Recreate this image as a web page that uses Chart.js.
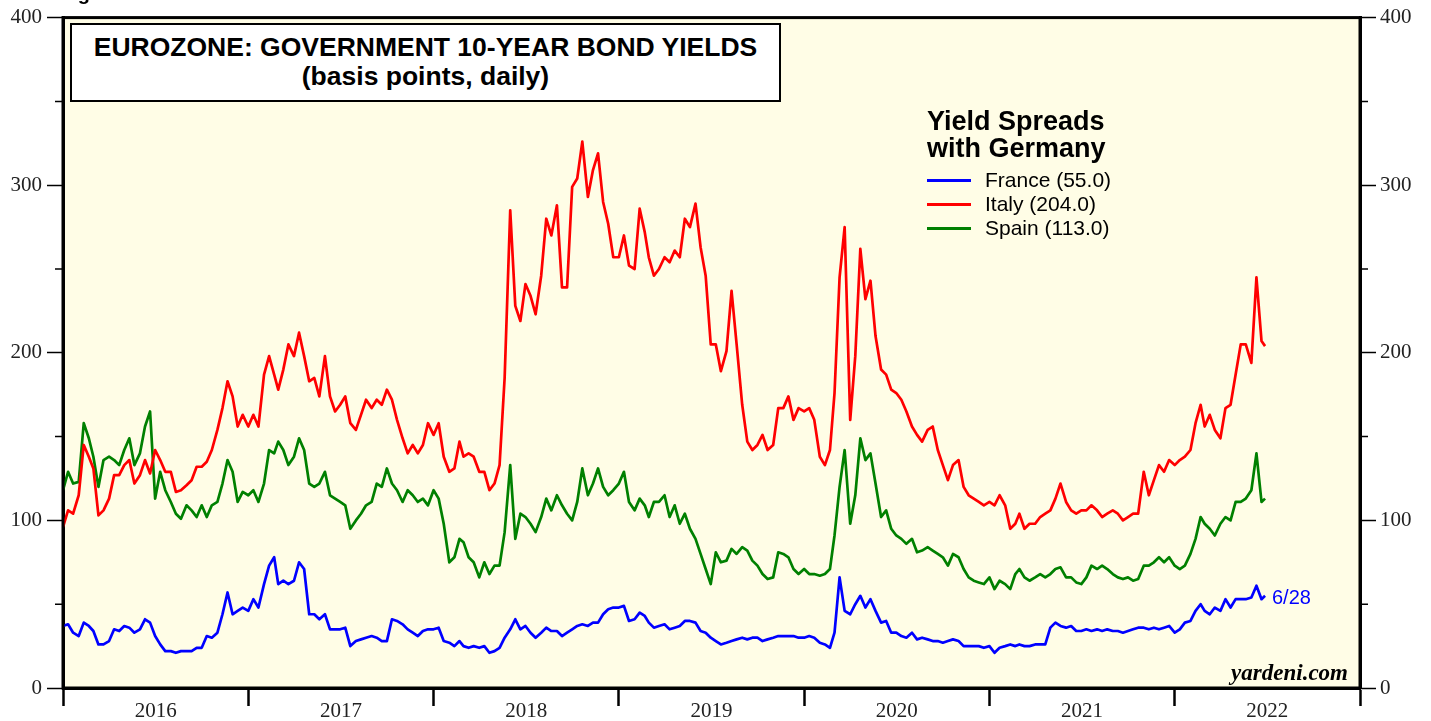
<!DOCTYPE html>
<html>
<head>
<meta charset="utf-8">
<script src="https://cdn.jsdelivr.net/npm/chart.js@4.4.0/dist/chart.umd.min.js"></script>
<style>
  html, body { margin: 0; padding: 0; background: #fff; }
  #wrap { position: relative; width: 1431px; height: 721px; overflow: hidden; }
  #c { position: absolute; left: 0; top: 0; }
  .ov { position: absolute; white-space: nowrap; font-family: "Liberation Sans", Arial, sans-serif; color: #000; }
  #fig { left: 60px; top: -17px; font-weight: bold; font-size: 20px; line-height: 20px; }
  #titlebox { left: 70px; top: 23px; width: 711px; height: 79px; box-sizing: border-box;
    border: 2px solid #000; background: #fff; text-align: center; font-weight: bold;
    font-size: 26.5px; line-height: 29px; padding-top: 8px; }
  #lghead { left: 927px; top: 108px; font-weight: bold; font-size: 27px; line-height: 27px; }
  .lgline { position: absolute; left: 927px; width: 44px; height: 3px; }
  .lgtext { left: 985px; font-size: 21px; line-height: 24px; }
  #last { left: 1272px; top: 585px; font-size: 20px; line-height: 24px; color: #0000ff; }
  #src { right: 83px; top: 661px; font-family: "Liberation Serif", "Times New Roman", serif;
    font-weight: bold; font-style: italic; font-size: 23px; line-height: 24px; }
</style>
</head>
<body>
<div id="wrap">
  <canvas id="c" width="1431" height="721"></canvas>
  <div class="ov" id="fig">Figure</div>
  <div class="ov" id="titlebox">EUROZONE: GOVERNMENT 10-YEAR BOND YIELDS<br>(basis points, daily)</div>
  <div class="ov" id="lghead">Yield Spreads<br>with Germany</div>
  <div class="lgline" style="top:179px;background:#0000ff"></div>
  <div class="lgline" style="top:203px;background:#ff0000"></div>
  <div class="lgline" style="top:227px;background:#008000"></div>
  <div class="ov lgtext" style="top:168px">France (55.0)</div>
  <div class="ov lgtext" style="top:192px">Italy (204.0)</div>
  <div class="ov lgtext" style="top:216px">Spain (113.0)</div>
  <div class="ov" id="last">6/28</div>
  <div class="ov" id="src">yardeni.com</div>
</div>
<script>
// Spreads over German 10-year bunds, basis points
// roughly every 10 days (1st, 11th, 21st of each month) + last day 6/28/22
const france = [
  37, 38, 33, 31, 39, 37, 34, 26, 26, 28, 35, 34, 37, 36, 33, 35, 41, 39, 31, 26, 22, 22, 21, 22, 22, 22, 24, 24, 31, 30, 33, 44, 57, 44, 46, 48, // 2016
  46, 53, 48, 62, 73, 78, 62, 64, 62, 64, 75, 71, 44, 44, 41, 44, 35, 35, 35, 36, 25, 28, 29, 30, 31, 30, 28, 28, 41, 40, 38, 35, 33, 31, 34, 35, // 2017
  35, 36, 28, 27, 25, 28, 25, 24, 25, 24, 25, 21, 22, 24, 30, 35, 41, 35, 37, 33, 30, 33, 36, 34, 34, 31, 33, 35, 37, 38, 37, 39, 39, 44, 47, 48, // 2018
  48, 49, 40, 41, 45, 43, 39, 36, 37, 38, 35, 36, 37, 40, 40, 39, 34, 33, 30, 28, 26, 27, 28, 29, 30, 29, 30, 30, 28, 29, 30, 31, 31, 31, 31, 30, // 2019
  30, 31, 30, 27, 26, 24, 33, 66, 46, 44, 50, 55, 48, 53, 46, 39, 40, 33, 33, 31, 30, 33, 29, 30, 29, 28, 28, 27, 28, 29, 28, 25, 25, 25, 25, 24, // 2020
  25, 21, 24, 25, 26, 25, 26, 25, 25, 26, 26, 26, 36, 39, 37, 36, 37, 34, 34, 35, 34, 35, 34, 35, 34, 34, 33, 34, 35, 36, 36, 35, 36, 35, 36, 37, // 2021
  33, 35, 39, 40, 46, 50, 46, 44, 48, 46, 53, 48, 53, 53, 53, 54, 61, 53, 55 // 2022
];
const italy = [
  96, 106, 104, 115, 145, 138, 131, 103, 106, 113, 127, 127, 133, 136, 122, 127, 136, 128, 142, 136, 129, 129, 117, 118, 121, 124, 132, 132, 135, 142, 154, 167, 183, 174, 156, 163,
  156, 163, 156, 187, 198, 187, 178, 190, 205, 198, 212, 198, 183, 185, 174, 198, 174, 165, 169, 174, 158, 154, 163, 172, 167, 172, 169, 178, 172, 160, 149, 140, 145, 140, 145, 158,
  151, 158, 138, 129, 131, 147, 138, 140, 138, 129, 129, 118, 122, 133, 185, 285, 228, 219, 241, 234, 223, 246, 280, 270, 288, 239, 239, 299, 304, 326, 293, 309, 319, 290, 277, 257,
  257, 270, 252, 250, 286, 272, 257, 246, 250, 257, 254, 261, 257, 280, 275, 289, 263, 246, 205, 205, 189, 201, 237, 205, 169, 147, 142, 145, 151, 142, 145, 167, 167, 174, 160, 167,
  165, 167, 160, 138, 133, 142, 176, 245, 275, 160, 198, 262, 232, 243, 210, 190, 187, 178, 176, 172, 165, 156, 151, 147, 154, 156, 142, 133, 124, 133, 136, 120, 115, 113, 111, 109,
  111, 109, 115, 109, 95, 98, 104, 95, 98, 98, 102, 104, 106, 113, 122, 111, 106, 104, 106, 106, 109, 106, 102, 104, 106, 104, 100, 102, 104, 104, 129, 115, 124, 133, 129, 136,
  133, 136, 138, 142, 158, 169, 156, 163, 154, 149, 167, 169, 187, 205, 205, 194, 245, 207, 204
];
const spain = [
  118, 129, 122, 123, 158, 149, 138, 120, 136, 138, 136, 133, 142, 149, 133, 140, 156, 165, 113, 129, 118, 111, 104, 101, 109, 106, 102, 109, 102, 109, 111, 122, 136, 129, 111, 117,
  115, 118, 111, 122, 142, 140, 147, 142, 133, 138, 149, 142, 122, 120, 122, 129, 115, 113, 111, 109, 95, 100, 104, 109, 111, 122, 120, 131, 122, 118, 111, 118, 115, 111, 113, 109,
  118, 113, 98, 75, 78, 89, 87, 78, 75, 66, 75, 68, 73, 73, 93, 133, 89, 104, 102, 98, 93, 102, 113, 106, 115, 109, 104, 100, 111, 131, 115, 122, 131, 120, 115, 118,
  122, 129, 111, 106, 113, 109, 102, 111, 111, 115, 102, 109, 98, 104, 95, 89, 80, 71, 62, 81, 75, 76, 83, 80, 84, 82, 76, 73, 68, 65, 66, 81, 80, 78, 71, 68,
  71, 68, 68, 67, 68, 71, 91, 120, 142, 98, 115, 149, 136, 140, 122, 102, 106, 95, 91, 89, 86, 89, 81, 82, 84, 82, 80, 78, 73, 80, 78, 71, 66, 64, 63, 62,
  66, 59, 64, 62, 59, 68, 71, 66, 64, 66, 68, 66, 68, 71, 72, 66, 66, 63, 62, 66, 73, 71, 73, 71, 68, 66, 65, 66, 64, 65, 73, 73, 75, 78, 75, 78,
  73, 71, 73, 80, 89, 102, 98, 95, 91, 98, 102, 100, 111, 111, 113, 118, 140, 111, 113
];
const yearLabels = ['2016', '2017', '2018', '2019', '2020', '2021', '2022'];
const yTicks = [0, 100, 200, 300, 400];

// sample dates: 1st, 11th, 21st of each month, then the last obs
const pad = n => (n < 10 ? '0' : '') + n;
const dates = [];
for (let y = 2016; y <= 2022; y++) {
  for (let m = 1; m <= 12; m++) {
    if (y === 2022 && m > 6) break;
    for (const d of [1, 11, 21]) dates.push(y + '-' + pad(m) + '-' + pad(d));
  }
}
dates.push('2022-06-28');

function toYear(s) {
  const [y, m, d] = s.split('-').map(Number);
  const t0 = Date.UTC(y, 0, 1), t1 = Date.UTC(y + 1, 0, 1);
  return y + (Date.UTC(y, m - 1, d) - t0) / (t1 - t0);
}
const pts = arr => arr.map((v, i) => ({ x: toYear(dates[i]), y: v }));

const serif = '"Liberation Serif", "Times New Roman", serif';
const firstYear = Number(yearLabels[0]);

const frame = {
  id: 'frame',
  beforeDraw(chart) {
    const { ctx, chartArea: a } = chart;
    ctx.save();
    ctx.fillStyle = '#fffde6';
    ctx.fillRect(a.left, a.top, a.right - a.left, a.bottom - a.top);
    ctx.restore();
  },
  afterDraw(chart) {
    const { ctx, chartArea: a } = chart;
    const ys = chart.scales.y;
    ctx.save();
    ctx.strokeStyle = '#000';
    ctx.lineWidth = 1.5;
    // minor ticks every 50
    for (let v = 50; v < 400; v += 100) {
      const p = ys.getPixelForValue(v);
      ctx.beginPath();
      ctx.moveTo(a.left - 8, p); ctx.lineTo(a.left, p);
      ctx.moveTo(a.right, p); ctx.lineTo(a.right + 8, p);
      ctx.stroke();
    }
    ctx.lineWidth = 3;
    ctx.strokeRect(a.left, a.top, a.right - a.left, a.bottom - a.top);
    ctx.restore();
  }
};

const yAxis = (pos, w, padd) => ({
  position: pos, min: 0, max: 400,
  afterFit: s => { s.width = w; },
  afterBuildTicks: s => { s.ticks = yTicks.map(v => ({ value: v })); },
  ticks: { padding: padd, color: '#222', font: { family: serif, size: 21 } },
  grid: { drawOnChartArea: false, tickLength: 16, tickWidth: 1.5, tickColor: '#000' },
  border: { display: true, color: '#000', width: 3 }
});

const line = (label, arr, color) => ({
  label: label, data: pts(arr), borderColor: color, borderWidth: 2.7,
  pointRadius: 0, tension: 0, borderJoinStyle: 'round', fill: false
});

new Chart(document.getElementById('c'), {
  type: 'line',
  data: {
    datasets: [
      line('France', france, '#0000ff'),
      line('Italy', italy, '#ff0000'),
      line('Spain', spain, '#008000')
    ]
  },
  options: {
    responsive: false,
    animation: false,
    layout: { padding: { top: 17, left: 0, right: 0, bottom: 0 } },
    plugins: { legend: { display: false }, tooltip: { enabled: false } },
    scales: {
      x: {
        type: 'linear', min: firstYear, max: firstYear + yearLabels.length,
        afterFit: s => { s.height = 33; },
        afterBuildTicks: s => {
          const t = [];
          for (let i = 0; i <= yearLabels.length * 2; i++) t.push({ value: firstYear + i / 2 });
          s.ticks = t;
        },
        ticks: {
          autoSkip: false, maxRotation: 0, padding: -7, color: '#222',
          font: { family: serif, size: 21 },
          callback: v => (v % 1 === 0.5 ? yearLabels[Math.floor(v) - firstYear] : '')
        },
        grid: {
          drawOnChartArea: false, tickLength: 18, tickWidth: 2.5,
          tickColor: c => (c.tick && c.tick.value % 1 === 0 ? '#000' : 'rgba(0,0,0,0)')
        },
        border: { display: true, color: '#000', width: 3 }
      },
      y: yAxis('left', 63, 5),
      y2: yAxis('right', 71, 4)
    }
  },
  plugins: [frame]
});
</script>
</body>
</html>
